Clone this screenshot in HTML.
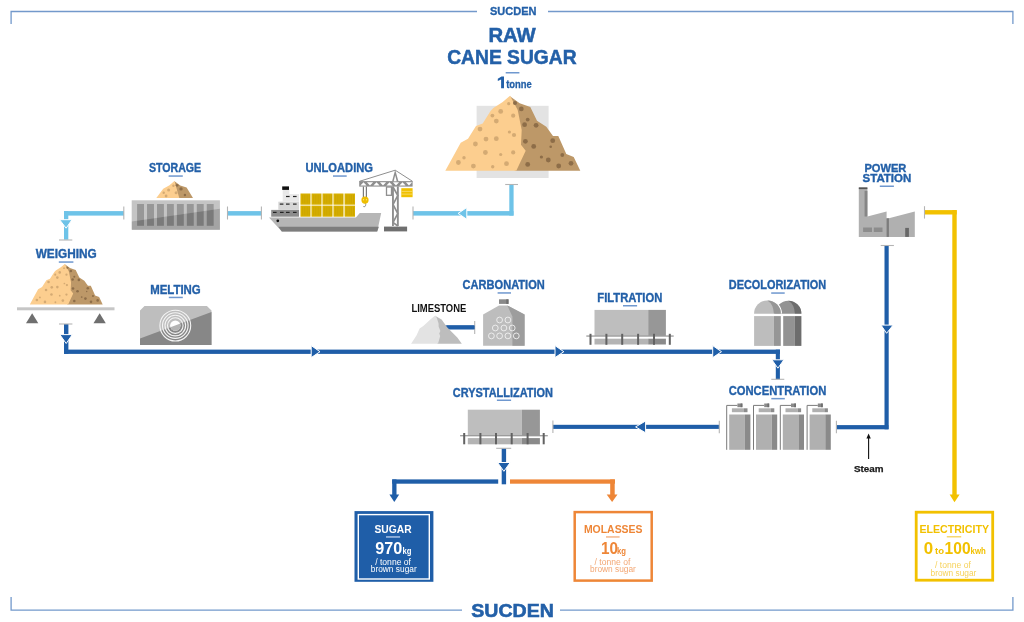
<!DOCTYPE html>
<html><head><meta charset="utf-8">
<style>
html,body{margin:0;padding:0;background:#fff;width:1024px;height:622px;overflow:hidden}
svg{display:block;will-change:transform}
text{font-family:"Liberation Sans",sans-serif;font-weight:bold}
.t{fill:#2360a8}
.t text{stroke:#2360a8;stroke-width:0.35}
</style></head><body>
<svg width="1024" height="622" viewBox="0 0 1024 622">
<!-- FRAME -->
<g fill="none" stroke="#7399cb" stroke-width="1.3">
<path d="M11.1 24V11.5H477M548 11.5H1012.9V24"/>
<path d="M11.1 597V610.1H462M560 610.1H1012.9V597"/>
</g>
<text class="t" stroke="#2360a8" stroke-width="0.3" x="490" y="14.6" font-size="10.5" textLength="46.5" lengthAdjust="spacingAndGlyphs">SUCDEN</text>
<text class="t" stroke="#2360a8" stroke-width="0.6" x="471.3" y="616.6" font-size="19.2" textLength="82.5" lengthAdjust="spacingAndGlyphs">SUCDEN</text>

<!-- PIPES light blue -->
<g fill="#6ec3e8">
<rect x="509.3" y="184.5" width="4.3" height="31.1"/>
<rect x="413" y="211.1" width="100.5" height="4.5"/>
<rect x="227.5" y="211.1" width="34" height="4.5"/>
<rect x="64" y="211.1" width="60" height="4.5"/>
<rect x="64" y="211.2" width="4.3" height="28.5"/>
</g>
<g fill="#6ec3e8" stroke="#fff" stroke-width="1">
<polygon points="458.1,213.4 466.8,207.5 466.8,219.3"/>
<polygon points="59.6,219.7 72,219.7 66.1,228.2"/>
</g>
<!-- PIPES dark blue -->
<g fill="#1f5ea8">
<rect x="64" y="324" width="4.4" height="29.8"/>
<rect x="64" y="349.6" width="716" height="4.3"/>
<rect x="775.8" y="349.6" width="4.1" height="29.7"/>
<rect x="446.6" y="325.4" width="28" height="3.9"/>
<rect x="552.9" y="424.8" width="166.4" height="4.1"/>
<rect x="836.4" y="425.1" width="52" height="4.2"/>
<rect x="884.5" y="245.5" width="4.2" height="183.8"/>
<rect x="501.7" y="448.3" width="4.4" height="36"/>
<rect x="392.2" y="479.4" width="106" height="4.3"/>
<rect x="392.2" y="479.4" width="4.3" height="16"/>
</g>
<g fill="#1f5ea8" stroke="#fff" stroke-width="1">
<polygon points="59.8,334.6 72.3,334.6 66.2,343.5"/>
<polygon points="320,351.7 311.2,345.6 311.2,357.6"/>
<polygon points="563.8,351.7 555,345.6 555,357.6"/>
<polygon points="721.5,351.7 712.7,345.6 712.7,357.6"/>
<polygon points="771.9,359.8 783.9,359.8 777.9,368.2"/>
<polygon points="635.6,426.9 645.6,421 645.6,432.8"/>
<polygon points="881,325.1 893.1,325.1 886.6,333.3"/>
<polygon points="497.6,462.5 510.2,462.5 503.9,471.3"/>
</g>
<polygon fill="#1f5ea8" points="389.4,494.5 399.2,494.5 394.3,502"/>
<!-- orange -->
<g fill="#ee8637">
<rect x="510" y="479.4" width="105" height="4.3"/>
<rect x="610.2" y="479.4" width="4.5" height="16"/>
<polygon points="606.7,494.5 617.5,494.5 612.1,502"/>
</g>
<!-- yellow -->
<g fill="#f2c100">
<rect x="924.5" y="210.1" width="32.2" height="4.4"/>
<rect x="952.3" y="210.1" width="4.4" height="285"/>
<polygon points="949.6,494.6 959.6,494.6 954.5,502.3"/>
</g>
<!-- TICKS -->
<g fill="none" stroke="#b4b4b4" stroke-width="1.1">
<path d="M505.2 184.5H518"/>
<path d="M413 206.5V219.5"/>
<path d="M227.5 206.5V219.5M261.4 206.5V219.5"/>
<path d="M123.8 206.5V219.5"/>
<path d="M59 240H72.3"/>
<path d="M59 324H72.4"/>
<path d="M474.7 321V334"/>
<path d="M771.3 379.3H784.3"/>
<path d="M719.3 420.8V433.3M836.4 420.8V433.3"/>
<path d="M552.9 420.5V433"/>
<path d="M880.7 245.5H893.9"/>
<path d="M496.2 448.3H511.2"/>
<path d="M924.5 206.2V218.6"/>
</g>
<path d="M868.6 459V436" stroke="#111" stroke-width="1.1"/>
<polygon points="868.6,433.5 866.4,438.5 870.8,438.5" fill="#111"/>

<!-- OUTPUT BOXES -->
<rect x="354.5" y="511.1" width="78.9" height="70.7" fill="#1f5ea8"/>
<rect x="358.3" y="514.6" width="71" height="64.4" fill="none" stroke="#fff" stroke-width="1.4"/>
<g fill="#fff">
<text x="374.5" y="533.2" font-size="11.5" textLength="37.2" lengthAdjust="spacingAndGlyphs">SUGAR</text>
<rect x="386" y="536.2" width="14.1" height="1.5" fill="#a9c3e6"/>
<text x="375.3" y="553.8" font-size="16.2" textLength="27" lengthAdjust="spacingAndGlyphs">970</text>
<text x="402.5" y="553.8" font-size="9.5" textLength="9" lengthAdjust="spacingAndGlyphs">kg</text>
<text x="375.2" y="564.5" font-size="8.3" font-weight="normal" style="font-weight:normal" textLength="35.8" lengthAdjust="spacingAndGlyphs">/ tonne of</text>
<text x="370.8" y="571.8" font-size="8.3" style="font-weight:normal" textLength="45.9" lengthAdjust="spacingAndGlyphs">brown sugar</text>
</g>
<rect x="574.7" y="512.1" width="77" height="68.5" fill="none" stroke="#ee8637" stroke-width="2.5"/>
<g fill="#ee8637">
<text x="583.9" y="533.2" font-size="11.5" textLength="58.6" lengthAdjust="spacingAndGlyphs">MOLASSES</text>
<rect x="606" y="536.2" width="13.6" height="1.5" fill="#f4b78a"/>
<text x="601" y="553.8" font-size="16.2" textLength="17" lengthAdjust="spacingAndGlyphs">10</text>
<text x="617" y="553.8" font-size="9.5" textLength="9" lengthAdjust="spacingAndGlyphs">kg</text>
</g>
<g fill="#f3a774">
<text x="594.5" y="564.5" font-size="8.3" style="font-weight:normal" textLength="35.8" lengthAdjust="spacingAndGlyphs">/ tonne of</text>
<text x="590" y="571.8" font-size="8.3" style="font-weight:normal" textLength="45.9" lengthAdjust="spacingAndGlyphs">brown sugar</text>
</g>
<rect x="916.2" y="512.2" width="76.5" height="68" fill="none" stroke="#f2c100" stroke-width="2.8"/>
<g fill="#f2c100">
<text x="919.4" y="533.2" font-size="11.5" textLength="69.6" lengthAdjust="spacingAndGlyphs">ELECTRICITY</text>
<rect x="946.8" y="536" width="14.4" height="1.5" fill="#f6d870"/>
<text x="923.8" y="554" font-size="15.6" textLength="9.4" lengthAdjust="spacingAndGlyphs">0</text>
<text x="935" y="554" font-size="9.2" textLength="9" lengthAdjust="spacingAndGlyphs">to</text>
<text x="944.6" y="554" font-size="15.6" textLength="26" lengthAdjust="spacingAndGlyphs">100</text>
<text x="970.6" y="554" font-size="8.6" textLength="15.2" lengthAdjust="spacingAndGlyphs">kwh</text>
</g>
<g fill="#f6d25a">
<text x="935" y="568" font-size="8.3" style="font-weight:normal" textLength="35.8" lengthAdjust="spacingAndGlyphs">/ tonne of</text>
<text x="930.5" y="575.8" font-size="8.3" style="font-weight:normal" textLength="45.9" lengthAdjust="spacingAndGlyphs">brown sugar</text>
</g>

<!-- PILES -->
<rect x="476.6" y="105.8" width="72" height="72.2" fill="#e3e3e3"/>
<g id="pile">
<polygon fill="#bd9868" points="509.6,95.9 519.7,103.3 530.3,106.9 537,120.7 546.3,126.7 553,136 558.3,136 566.3,154 573.7,157.1 580.3,170.7 514.5,170.7 523.9,150.7 519.2,144.7 519.9,130 515.9,110"/>
<polygon fill="#fcce8f" points="510.1,95.7 502.7,102 493.4,108 490.7,110.7 482.7,123.4 476,126 468,138.7 460.7,142.7 445.3,170.7 516.3,170.7 525.7,150.7 521,144.7 521.7,130 517.7,110"/>
<g fill="#d4aa73">
<circle cx="508.7" cy="103.7" r="1.6"/><circle cx="500.7" cy="111.4" r="2.4"/><circle cx="492.4" cy="115.6" r="1.9"/>
<circle cx="496.3" cy="121.1" r="2.4"/><circle cx="513.2" cy="115.7" r="2.1"/><circle cx="480" cy="129.1" r="2.4"/>
<circle cx="509.4" cy="132" r="1.6"/><circle cx="514" cy="135" r="2.1"/><circle cx="486" cy="139.1" r="2.4"/>
<circle cx="496.3" cy="138.7" r="2.4"/><circle cx="475.4" cy="144" r="2.4"/><circle cx="485.4" cy="152.5" r="2.4"/>
<circle cx="500.7" cy="154.5" r="1.6"/><circle cx="513.2" cy="152.4" r="2.1"/><circle cx="464" cy="157.8" r="1.7"/>
<circle cx="458.4" cy="162.5" r="2.4"/><circle cx="473.4" cy="166.1" r="2.4"/><circle cx="492.7" cy="166.7" r="1.7"/>
<circle cx="506.5" cy="163.7" r="2.4"/>
</g>
<g fill="#8d6d48">
<circle cx="515" cy="102.9" r="2"/><circle cx="521.3" cy="108.9" r="2.4"/><circle cx="527.7" cy="119.6" r="1.9"/>
<circle cx="524.6" cy="124.7" r="2.4"/><circle cx="536.1" cy="125.3" r="2.4"/><circle cx="525.4" cy="141.3" r="2.4"/>
<circle cx="533.7" cy="146.4" r="2.4"/><circle cx="552.7" cy="140.7" r="2.4"/><circle cx="550.7" cy="146.7" r="1.3"/>
<circle cx="562.3" cy="155" r="1.9"/><circle cx="541.4" cy="157" r="1.6"/><circle cx="548.3" cy="160" r="2.4"/>
<circle cx="527.7" cy="164.4" r="2.4"/><circle cx="558.7" cy="166" r="2.4"/><circle cx="571" cy="163.3" r="2.4"/>
</g>
</g>
<use href="#pile" transform="translate(29.8,304.4) scale(0.54) translate(-445.3,-170.7)"/>
<!-- storage pile -->
<polygon fill="#bd9868" points="174.2,181 180.3,185.5 186.6,187.5 193,198 178.3,198"/>
<polygon fill="#fcce8f" points="174.4,180.9 169.5,185.3 163.2,188.7 156.3,198 179.3,198"/>
<g fill="#d4aa73"><circle cx="168.6" cy="190.1" r="1.5"/><circle cx="163.7" cy="192.8" r="1.2"/><circle cx="166.1" cy="196" r="1.4"/><circle cx="173.4" cy="185.7" r="1.2"/><circle cx="176.1" cy="192.8" r="1.5"/></g>
<g fill="#8d6d48"><circle cx="177.1" cy="185.3" r="1.4"/><circle cx="181" cy="188.9" r="1.7"/><circle cx="184.9" cy="195" r="1.2"/></g>

<!-- SCALE (weighing) -->
<rect x="17" y="307.3" width="97.5" height="3" fill="#c6c6c6"/>
<g fill="#6f6f6f"><polygon points="26,323.3 38.3,323.3 32.15,313.2"/><polygon points="93.5,323.3 105.8,323.3 99.65,313.2"/></g>
<!-- STORAGE container -->
<defs><clipPath id="cdiag"><polygon points="131.7,221.5 219.9,208.8 219.9,230 131.7,230"/></clipPath></defs>
<rect x="131.7" y="200.3" width="88.2" height="29.4" fill="#c4c4c4"/>
<g fill="#979797"><rect x="137.1" y="204" width="6.9" height="21.8"/><rect x="147.05" y="204" width="6.9" height="21.8"/><rect x="157" y="204" width="6.9" height="21.8"/><rect x="166.95" y="204" width="6.9" height="21.8"/><rect x="176.9" y="204" width="6.9" height="21.8"/><rect x="186.85" y="204" width="6.9" height="21.8"/><rect x="196.8" y="204" width="6.9" height="21.8"/><rect x="206.75" y="204" width="6.9" height="21.8"/></g>
<g clip-path="url(#cdiag)">
<rect x="131.7" y="200.3" width="88.2" height="29.4" fill="#a4a4a4"/>
<g fill="#7a7a7a"><rect x="137.1" y="204" width="6.9" height="21.8"/><rect x="147.05" y="204" width="6.9" height="21.8"/><rect x="157" y="204" width="6.9" height="21.8"/><rect x="166.95" y="204" width="6.9" height="21.8"/><rect x="176.9" y="204" width="6.9" height="21.8"/><rect x="186.85" y="204" width="6.9" height="21.8"/><rect x="196.8" y="204" width="6.9" height="21.8"/><rect x="206.75" y="204" width="6.9" height="21.8"/></g>
</g>
<!-- MELTING -->
<defs><clipPath id="mdiag"><polygon points="140,338.6 211.5,312 211.5,346 140,346"/></clipPath></defs>
<polygon fill="#bebebe" points="144.5,306 206.9,306 211.5,310.5 211.5,344.9 140,344.9 140,310.5"/>
<polygon fill="#878787" points="140,338.6 211.5,312 211.5,344.9 140,344.9"/>
<g fill="none" stroke="#f4f4f4" stroke-width="1.1">
<circle cx="175.3" cy="325.6" r="15.4"/><circle cx="175.3" cy="325.6" r="12.8"/><circle cx="175.3" cy="325.6" r="10.3"/><circle cx="175.3" cy="325.6" r="7.8"/>
</g>
<circle cx="175.3" cy="325.6" r="5.2" fill="#fff"/>
<circle cx="175.3" cy="325.6" r="5.2" fill="#b4b4b4" clip-path="url(#mdiag)"/>
<!-- SHIP -->
<polygon fill="#b6b6b6" points="269,217.6 355.9,217.6 359.8,213.1 381.2,213.1 377.2,231.4 281.8,231.4"/>
<polygon fill="#7d7d7d" points="278.3,226.7 378.9,226.7 377.2,231.4 281.8,231.4"/>
<circle cx="277.8" cy="220.8" r="1.4" fill="#111"/>
<rect x="271.2" y="209.9" width="27.8" height="6.8" fill="#8c8c8c"/>
<rect x="278.3" y="201.7" width="20.7" height="8.2" fill="#d6d6d6"/>
<rect x="282.7" y="194.1" width="16.3" height="7.6" fill="#e8e8e8"/>
<rect x="282.7" y="189.7" width="6.6" height="4.4" fill="#e8e8e8"/>
<rect x="282.2" y="186.4" width="6.8" height="3.5" fill="#111"/>
<g fill="#222">
<rect x="286" y="195.9" width="3.6" height="1.2"/><rect x="293" y="195.9" width="3.6" height="1.2"/>
<rect x="279.8" y="203.5" width="3.6" height="1.2"/><rect x="286" y="203.5" width="3.6" height="1.2"/><rect x="293" y="203.5" width="3.6" height="1.2"/>
<rect x="273" y="211.8" width="3.6" height="1.2"/><rect x="280" y="211.8" width="3.6" height="1.2"/><rect x="286" y="211.8" width="3.6" height="1.2"/><rect x="293" y="211.8" width="3.6" height="1.2"/>
</g>
<g fill="#d8b000">
<rect x="300.5" y="193.5" width="10" height="11.2"/><rect x="311.5" y="193.5" width="10" height="11.2"/><rect x="322.5" y="193.5" width="10" height="11.2"/><rect x="333.5" y="193.5" width="10" height="11.2"/><rect x="344.6" y="193.5" width="10.4" height="11.2"/>
<rect x="300.5" y="205.6" width="10" height="11.1"/><rect x="311.5" y="205.6" width="10" height="11.1"/><rect x="322.5" y="205.6" width="10" height="11.1"/><rect x="333.5" y="205.6" width="10" height="11.1"/><rect x="344.6" y="205.6" width="10.4" height="11.1"/>
</g>
<g fill="#c49e00"><rect x="302.5" y="194.7" width="0.7" height="8.8"/><rect x="304.6" y="194.7" width="0.7" height="8.8"/><rect x="306.7" y="194.7" width="0.7" height="8.8"/><rect x="308.8" y="194.7" width="0.7" height="8.8"/><rect x="302.5" y="206.8" width="0.7" height="8.7"/><rect x="304.6" y="206.8" width="0.7" height="8.7"/><rect x="306.7" y="206.8" width="0.7" height="8.7"/><rect x="308.8" y="206.8" width="0.7" height="8.7"/><rect x="313.5" y="194.7" width="0.7" height="8.8"/><rect x="315.6" y="194.7" width="0.7" height="8.8"/><rect x="317.7" y="194.7" width="0.7" height="8.8"/><rect x="319.8" y="194.7" width="0.7" height="8.8"/><rect x="313.5" y="206.8" width="0.7" height="8.7"/><rect x="315.6" y="206.8" width="0.7" height="8.7"/><rect x="317.7" y="206.8" width="0.7" height="8.7"/><rect x="319.8" y="206.8" width="0.7" height="8.7"/><rect x="324.5" y="194.7" width="0.7" height="8.8"/><rect x="326.6" y="194.7" width="0.7" height="8.8"/><rect x="328.7" y="194.7" width="0.7" height="8.8"/><rect x="330.8" y="194.7" width="0.7" height="8.8"/><rect x="324.5" y="206.8" width="0.7" height="8.7"/><rect x="326.6" y="206.8" width="0.7" height="8.7"/><rect x="328.7" y="206.8" width="0.7" height="8.7"/><rect x="330.8" y="206.8" width="0.7" height="8.7"/><rect x="335.5" y="194.7" width="0.7" height="8.8"/><rect x="337.6" y="194.7" width="0.7" height="8.8"/><rect x="339.7" y="194.7" width="0.7" height="8.8"/><rect x="341.8" y="194.7" width="0.7" height="8.8"/><rect x="335.5" y="206.8" width="0.7" height="8.7"/><rect x="337.6" y="206.8" width="0.7" height="8.7"/><rect x="339.7" y="206.8" width="0.7" height="8.7"/><rect x="341.8" y="206.8" width="0.7" height="8.7"/><rect x="346.6" y="194.7" width="0.7" height="8.8"/><rect x="348.7" y="194.7" width="0.7" height="8.8"/><rect x="350.8" y="194.7" width="0.7" height="8.8"/><rect x="352.9" y="194.7" width="0.7" height="8.8"/><rect x="346.6" y="206.8" width="0.7" height="8.7"/><rect x="348.7" y="206.8" width="0.7" height="8.7"/><rect x="350.8" y="206.8" width="0.7" height="8.7"/><rect x="352.9" y="206.8" width="0.7" height="8.7"/></g>
<!-- CRANE -->
<g fill="none" stroke="#8e8e8e">
<path d="M359.5 181.3L395.2 170.2L412.5 181.3" stroke-width="1"/>
<path d="M363.4 186.4V198.3M366.4 186.4V198.3" stroke-width="1.2" stroke="#7a7a7a"/>
<path d="M365 203Q366.8 205 365 206.6Q363.6 207.2 363.2 206" stroke-width="0.9"/>
<rect x="386.5" y="187" width="5" height="8.3" stroke-width="1.3"/>
</g>
<rect x="359.2" y="181.1" width="53.4" height="5.5" fill="#8e8e8e"/>
<g fill="#fff"><polygon points="360.4,185.4 366.6,185.4 363.5,182.3"/><polygon points="366.9,182.3 373.1,182.3 370.0,185.4"/><polygon points="373.4,185.4 379.6,185.4 376.5,182.3"/><polygon points="379.9,182.3 386.1,182.3 383.0,185.4"/><polygon points="386.4,185.4 392.6,185.4 389.5,182.3"/><polygon points="392.9,182.3 399.1,182.3 396.0,185.4"/><polygon points="399.4,185.4 405.6,185.4 402.5,182.3"/><polygon points="405.9,182.3 412.1,182.3 409.0,185.4"/></g>
<polygon fill="#8e8e8e" points="395.2,169.8 398.4,181.2 392.1,181.2"/>
<polygon fill="#fff" points="395.2,175.2 396.7,181.2 393.7,181.2"/>
<g fill="#8e8e8e"><rect x="392" y="186.5" width="1.9" height="39.5"/><rect x="396.9" y="186.5" width="1.9" height="39.5"/></g>
<path d="M393 187L397.8 195.5L393 204.5L397.8 213.5L393 222.5L397.8 226" fill="none" stroke="#8e8e8e" stroke-width="1.6"/>
<circle cx="365" cy="200.1" r="3.6" fill="#eebe00"/>
<g fill="#fff7d0"><circle cx="363.6" cy="199.8" r="0.55"/><circle cx="366.4" cy="199.8" r="0.55"/></g>
<rect x="401.3" y="188.2" width="11.3" height="9" fill="#f0c100"/>
<g fill="#f8de7a"><rect x="401.3" y="190.9" width="11.3" height="0.8"/><rect x="401.3" y="193.7" width="11.3" height="0.8"/></g>
<rect x="384" y="226.6" width="23.1" height="4.8" fill="#6f6f6f"/>


<!-- LIMESTONE pile -->
<rect x="444" y="325.4" width="30.6" height="3.9" fill="#1f5ea8"/>
<polygon fill="#bdbdbd" points="435,315.7 441.6,319.4 447.1,327.3 453.8,334.1 457.5,337.7 461.8,343.8 437,343.8 439.2,336 438.2,333.5 439.4,331 437.6,326.5 437.6,323.5 435.8,318"/>
<polygon fill="#e3e3e3" points="435.3,315.5 431.2,318.8 423.3,326.1 419.6,328.6 416.6,335.3 411.1,343.8 438,343.8 440.2,336 439.2,333.5 440.4,331 438.6,326.5 438.6,323.5 436.8,318"/>
<!-- CARBONATION -->
<rect x="499" y="299.3" width="9.5" height="4.6" fill="#8a8a8a"/>
<rect x="506.3" y="299.3" width="2.2" height="4.6" fill="#6e6e6e"/>
<polygon fill="#bdbdbd" points="483.1,314.5 499,305.4 507.3,305.4 524.6,314.5 524.6,345.7 483.1,345.7"/>
<polygon fill="#9d9d9d" points="507.3,305.4 524.6,314.5 524.6,345.7 512.4,345.7 512.4,316.4"/>
<g fill="none" stroke="#f0f0f0" stroke-width="0.9">
<circle cx="499.6" cy="320" r="2.9"/><circle cx="507.9" cy="320" r="2.9"/>
<circle cx="495.3" cy="328" r="2.9"/><circle cx="503.9" cy="328" r="2.9"/><circle cx="512.2" cy="328" r="2.9"/>
<circle cx="491.4" cy="335.9" r="2.9"/><circle cx="499.6" cy="335.9" r="2.9"/><circle cx="507.9" cy="335.9" r="2.9"/><circle cx="516.3" cy="335.9" r="2.9"/>
</g>
<!-- FILTRATION -->
<rect x="594.5" y="309.9" width="53.7" height="25.9" fill="#bebebe"/>
<rect x="648.2" y="309.9" width="17.7" height="25.9" fill="#979797"/>
<rect x="594.5" y="338.7" width="53.7" height="5.8" fill="#b4b4b4"/>
<rect x="648.2" y="338.7" width="17.7" height="5.8" fill="#8a8a8a"/>
<rect x="586.3" y="335.5" width="87.4" height="1.1" fill="#8a8a8a"/>
<g fill="#626262"><rect x="589.5" y="333.8" width="2" height="11"/><rect x="605.4" y="333.8" width="2" height="11"/><rect x="621.2" y="333.8" width="2" height="11"/><rect x="637.1" y="333.8" width="2" height="11"/><rect x="653" y="333.8" width="2" height="11"/><rect x="668.8" y="333.8" width="2" height="11"/></g>
<!-- CRYSTALLIZATION -->
<rect x="467.8" y="409.7" width="54.1" height="25.7" fill="#bebebe"/>
<rect x="521.9" y="409.7" width="18" height="25.7" fill="#979797"/>
<rect x="467.8" y="438.1" width="54.1" height="6.2" fill="#b4b4b4"/>
<rect x="521.9" y="438.1" width="18" height="6.2" fill="#8a8a8a"/>
<rect x="460.1" y="435.2" width="87.7" height="1.1" fill="#8a8a8a"/>
<g fill="#626262"><rect x="463.2" y="433" width="2" height="11.3"/><rect x="479.4" y="433" width="2" height="11.3"/><rect x="495" y="433" width="2" height="11.3"/><rect x="510.7" y="433" width="2" height="11.3"/><rect x="526.6" y="433" width="2" height="11.3"/><rect x="542.7" y="433" width="2" height="11.3"/></g>
<!-- DECOLORIZATION -->
<defs><clipPath id="dtop"><rect x="740" y="290" width="80" height="23.8"/></clipPath></defs>
<g clip-path="url(#dtop)">
<circle cx="788.3" cy="313.8" r="13.1" fill="#939393"/>
<path d="M788.3 300.7A13.1 13.1 0 0 1 801.4 313.8H794.9Q794.5 304 788.3 300.7Z" fill="#6d6d6d"/>
<path d="M767.45 300.4A13.4 13.4 0 0 1 780.85 313.8" fill="none" stroke="#fff" stroke-width="2.4"/>
<circle cx="767.45" cy="313.8" r="13.4" fill="#bdbdbd"/>
<path d="M767.45 300.4A13.4 13.4 0 0 1 780.85 313.8H773.9Q773.5 304 767.45 300.4Z" fill="#969696"/>
</g>
<rect x="754.1" y="316.1" width="19.8" height="29.8" fill="#bdbdbd"/>
<rect x="773.9" y="316.1" width="6.9" height="29.8" fill="#969696"/>
<rect x="783.2" y="316.1" width="11.7" height="29.8" fill="#939393"/>
<rect x="794.9" y="316.1" width="6.5" height="29.8" fill="#6d6d6d"/>
<!-- CONCENTRATION -->
<g id="ctank">
<path d="M726.7 449.8V405.4H737.4" fill="none" stroke="#7a7a7a" stroke-width="1"/>
<rect x="737.4" y="403.5" width="5" height="3.7" fill="#8a8a8a"/>
<rect x="740.6" y="403.5" width="1.8" height="3.7" fill="#6f6f6f"/>
<rect x="731.9" y="408.3" width="12.1" height="3.9" fill="#b0b0b0"/>
<rect x="744" y="408.3" width="3.5" height="3.9" fill="#8c8c8c"/>
<rect x="729.2" y="414.5" width="15.7" height="35.3" fill="#b0b0b0"/>
<rect x="744.9" y="414.5" width="5.5" height="35.3" fill="#8a8a8a"/>
</g>
<use href="#ctank" x="26.8"/><use href="#ctank" x="53.6"/><use href="#ctank" x="80.4"/>
<!-- POWER STATION -->
<polygon fill="#b0b0b0" points="858.8,187.6 867.4,187.6 867.4,216.5 886.6,211.4 886.6,218.3 888.9,218.3 914.8,211.4 914.8,236.9 858.8,236.9"/>
<rect x="858.8" y="187.4" width="8.6" height="1.7" fill="#555"/>
<rect x="864.6" y="190.8" width="2.8" height="25.7" fill="#868686"/>
<rect x="886.6" y="218.3" width="2.3" height="18.6" fill="#7c7c7c"/>
<rect x="863.1" y="227.5" width="8.9" height="4.5" fill="#8c8c8c"/>
<rect x="873.8" y="227.5" width="8.7" height="4.5" fill="#8c8c8c"/>
<rect x="905.2" y="227.9" width="3.7" height="9" fill="#676767"/>
<!-- TITLE -->
<text class="t" stroke="#2360a8" stroke-width="0.5" x="488.4" y="42.2" font-size="19.5" textLength="47.3" lengthAdjust="spacingAndGlyphs">RAW</text>
<text class="t" stroke="#2360a8" stroke-width="0.5" x="447.2" y="63.8" font-size="19.5" textLength="129.4" lengthAdjust="spacingAndGlyphs">CANE SUGAR</text>
<rect x="505.7" y="72" width="13.7" height="1.5" fill="#6f98cf"/>
<polygon fill="#2360a8" points="497.8,78.7 501.5,76.4 504,76.4 504,88.2 501.1,88.2 501.1,79.5 497.8,81.1"/>
<text class="t" x="506.2" y="88.2" font-size="11.6" stroke="#2360a8" stroke-width="0.3" textLength="25.6" lengthAdjust="spacingAndGlyphs">tonne</text>
<!-- LABELS -->
<g class="t">
<text x="148.9" y="172.3" font-size="12" textLength="52.3" lengthAdjust="spacingAndGlyphs">STORAGE</text>
<rect x="168.6" y="175.3" width="14.2" height="1.5" fill="#6f98cf"/>
<text x="305.4" y="172.2" font-size="12" textLength="67.6" lengthAdjust="spacingAndGlyphs">UNLOADING</text>
<rect x="333" y="175.3" width="13.7" height="1.5" fill="#6f98cf"/>
<text x="35.7" y="258.2" font-size="12" textLength="61.0" lengthAdjust="spacingAndGlyphs">WEIGHING</text>
<rect x="58.8" y="261.3" width="14.6" height="1.5" fill="#6f98cf"/>
<text x="150.2" y="293.6" font-size="12" textLength="50.5" lengthAdjust="spacingAndGlyphs">MELTING</text>
<rect x="168.8" y="296.7" width="14" height="1.5" fill="#6f98cf"/>
<text x="462.6" y="289.1" font-size="12" textLength="82.2" lengthAdjust="spacingAndGlyphs">CARBONATION</text>
<rect x="497.6" y="292.2" width="13.4" height="1.5" fill="#6f98cf"/>
<text x="597.3" y="302.1" font-size="12" textLength="65.0" lengthAdjust="spacingAndGlyphs">FILTRATION</text>
<rect x="623" y="305" width="14.1" height="1.5" fill="#6f98cf"/>
<text x="728.8" y="289.4" font-size="12" textLength="97.4" lengthAdjust="spacingAndGlyphs">DECOLORIZATION</text>
<rect x="771.2" y="292.3" width="13.5" height="1.5" fill="#6f98cf"/>
<text x="864.4" y="172.2" font-size="10.8" textLength="41.9" lengthAdjust="spacingAndGlyphs">POWER</text>
<text x="862.6" y="182.3" font-size="10.8" textLength="48.7" lengthAdjust="spacingAndGlyphs">STATION</text>
<rect x="879.8" y="185.5" width="14.1" height="1.5" fill="#6f98cf"/>
<text x="728.7" y="394.8" font-size="12" textLength="97.6" lengthAdjust="spacingAndGlyphs">CONCENTRATION</text>
<rect x="771.3" y="397.9" width="13.5" height="1.5" fill="#6f98cf"/>
<text x="452.8" y="396.8" font-size="12" textLength="100.1" lengthAdjust="spacingAndGlyphs">CRYSTALLIZATION</text>
<rect x="496.9" y="399.5" width="14.2" height="1.5" fill="#6f98cf"/>
</g>
<text x="411.4" y="312.3" font-size="10.5" fill="#111" textLength="54.9" lengthAdjust="spacingAndGlyphs">LIMESTONE</text>
<text x="853.9" y="471.9" font-size="9.6" fill="#1a1a1a" stroke="#1a1a1a" stroke-width="0.25" textLength="29.6" lengthAdjust="spacingAndGlyphs">Steam</text>
</svg>
</body></html>
